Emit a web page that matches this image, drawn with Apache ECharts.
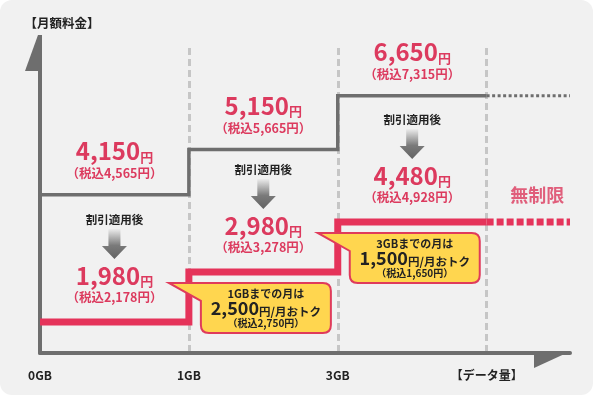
<!DOCTYPE html>
<html><head><meta charset="utf-8">
<script src="https://cdn.jsdelivr.net/npm/echarts@6/dist/echarts.min.js"></script>
<style>html,body{margin:0;padding:0;background:#fff}#c{width:596px;height:397px}</style>
</head><body><div id="c"></div>
<script>
// ---- data ----
const xLabels = ['0GB', '1GB', '3GB', '【データ量】'];
const basePrice = [4150, 5150, 6650];          // 月額料金（税抜）
const basePriceTax = [4565, 5665, 7315];       // 税込
const discountPrice = [1980, 2980, 4480];      // 割引適用後（税抜）
const discountPriceTax = [2178, 3278, 4928];   // 税込
const savings = [2500, 1500];                  // おトク額（税抜）
const savingsTax = [2750, 1650];               // 税込
const yTitle = '【月額料金】';
const discountLabel = '割引適用後';
const unlimitedLabel = '無制限';

// ---- styles ----
const RED = '#e5335a', RED_T = '#dc3a5e', GRAY = '#6e6e6e', INK = '#222222', YEL = '#ffd64f';
const FONT = '"Noto Sans CJK JP", "Noto Sans", sans-serif';
const X_MAX = 3.56;
const fmt = v => v.toLocaleString('en-US');

function stepData(vals) {
  const d = vals.map((v, i) => [i, v]);
  d.push([vals.length, vals[vals.length - 1]]);
  return d;
}
function extData(vals) {
  const last = vals[vals.length - 1];
  return [[vals.length, last], [X_MAX, last]];
}

const priceRich = {
  n: {fontSize: 24, fontWeight: 'bold', fontFamily: FONT, fill: RED_T, lineHeight: 28, verticalAlign: 'bottom'},
  u: {fontSize: 13, fontWeight: 'bold', fontFamily: FONT, fill: RED_T, lineHeight: 20, verticalAlign: 'bottom'}
};
const boxRich = {
  n: {fontSize: 18, fontWeight: 'bold', fontFamily: FONT, fill: INK, lineHeight: 22, verticalAlign: 'bottom'},
  u: {fontSize: 11.5, fontWeight: 'bold', fontFamily: FONT, fill: INK, lineHeight: 17, verticalAlign: 'bottom'}
};

function priceTexts(cx, cy, price, tax, dy1, dy2) {
  return [
    {type: 'text', style: {x: cx, y: cy + dy1, text: `{n|${fmt(price)}}{u|円}`, align: 'center', verticalAlign: 'middle', rich: priceRich}},
    {type: 'text', style: {x: cx, y: cy + dy2, text: `（税込${fmt(tax)}円）`, align: 'center', verticalAlign: 'middle',
      fontSize: 12.5, fontWeight: 'bold', fontFamily: FONT, fill: RED_T}}
  ];
}

function calloutPath(ax, ay) {
  const L = ax + 12, R = ax + 142, T = ay + 11, B = ay + 61, r = 8;
  return `M${ax - 20} ${T} L${R - r} ${T} Q${R} ${T} ${R} ${T + r} L${R} ${B - r} Q${R} ${B} ${R - r} ${B} ` +
         `L${L + r} ${B} Q${L} ${B} ${L} ${B - r} L${L} ${T + 18} Z`;
}

const chart = echarts.init(document.getElementById('c'), null, {renderer: 'canvas'});
chart.setOption({
  animation: false,
  backgroundColor: '#ffffff',
  grid: {left: 40, right: 26, top: 48, bottom: 44, containLabel: false, outerBoundsMode: 'none'},
  xAxis: {
    type: 'value', min: 0, max: X_MAX, interval: 1,
    axisLine: {show: true, onZero: false, lineStyle: {color: GRAY, width: 4}},
    axisTick: {show: false},
    axisLabel: {
      formatter: v => (Number.isInteger(v) ? (xLabels[v] || '') : ''),
      margin: 16, color: INK, fontSize: 12, fontWeight: 'bold', fontFamily: FONT, showMaxLabel: false
    },
    splitLine: {show: true, showMinLine: false, showMaxLine: false, lineStyle: {color: '#c6c6c6', width: 3, type: [7, 4]}}
  },
  yAxis: [
    {type: 'log', logBase: 10, min: 1949, max: 8357,
      axisLine: {show: true, onZero: false, lineStyle: {color: GRAY, width: 4}},
      axisTick: {show: false}, axisLabel: {show: false}, splitLine: {show: false}},
    {type: 'log', logBase: 10, min: 1537, max: 18550, show: false, splitLine: {show: false}}
  ],
  graphic: [
    {type: 'rect', z: -100, shape: {x: 0, y: 0, width: 593, height: 395, r: 12}, style: {fill: '#f1f1f1'}},
    {type: 'polygon', z: 100, shape: {points: [[25, 71], [38, 35], [42, 35], [42, 71]]}, style: {fill: GRAY}},
    {type: 'polygon', z: 100, shape: {points: [[534, 351], [571, 351], [534, 368]]}, style: {fill: GRAY}},
    {type: 'text', z: 100, style: {x: 62, y: 23, text: yTitle, align: 'center', verticalAlign: 'middle',
      fontSize: 12.5, fontWeight: 'bold', fontFamily: FONT, fill: INK}}
  ],
  series: [
    {type: 'line', name: '通常料金', yAxisIndex: 0, step: 'end', data: stepData(basePrice), symbol: 'none', silent: true, z: 3,
      lineStyle: {color: GRAY, width: 3.5, cap: 'butt', join: 'miter'}},
    {type: 'line', yAxisIndex: 0, data: extData(basePrice), symbol: 'none', silent: true, z: 3,
      lineStyle: {color: GRAY, width: 3, type: [3, 2.5], cap: 'butt'}},
    {type: 'line', name: '割引後', yAxisIndex: 1, step: 'end', data: stepData(discountPrice), symbol: 'none', silent: true, z: 4,
      lineStyle: {color: RED, width: 7, cap: 'butt', join: 'miter'}},
    {type: 'line', yAxisIndex: 1, data: extData(discountPrice), symbol: 'none', silent: true, z: 4,
      lineStyle: {color: RED, width: 7, type: [7, 3], cap: 'butt'}},
    // base price labels
    {type: 'custom', yAxisIndex: 0, silent: true, z: 5,
      data: basePrice.map((v, i) => [i + 0.5, v]),
      renderItem: (params, api) => {
        const i = params.dataIndex;
        const p = api.coord([api.value(0), api.value(1)]);
        return {type: 'group', children: priceTexts(p[0], p[1], basePrice[i], basePriceTax[i], -45.5, -21.5)};
      }},
    // discount labels with arrow
    {type: 'custom', yAxisIndex: 1, silent: true, z: 5,
      data: discountPrice.map((v, i) => [i + 0.5, v]),
      renderItem: (params, api) => {
        const i = params.dataIndex;
        const p = api.coord([api.value(0), api.value(1)]);
        const cx = p[0], cy = p[1];
        const arrow = {type: 'polygon', shape: {points: [
          [cx - 6, cy - 93], [cx + 6, cy - 93], [cx + 6, cy - 76], [cx + 12.5, cy - 76],
          [cx, cy - 63], [cx - 12.5, cy - 76], [cx - 6, cy - 76]]},
          style: {fill: new echarts.graphic.LinearGradient(0, 0, 0, 1, [
            {offset: 0, color: '#ececec'}, {offset: 0.55, color: '#7a7a7a'}, {offset: 1, color: '#636363'}])}};
        return {type: 'group', children: [
          {type: 'text', style: {x: cx, y: cy - 102, text: discountLabel, align: 'center', verticalAlign: 'middle',
            fontSize: 11.5, fontWeight: 'bold', fontFamily: FONT, fill: INK}},
          arrow
        ].concat(priceTexts(cx, cy, discountPrice[i], discountPriceTax[i], -48, -24.5))};
      }},
    // callouts
    {type: 'custom', yAxisIndex: 1, silent: true, z: 6,
      data: savings.map((v, i) => [i + 1, discountPrice[i + 1]]),
      renderItem: (params, api) => {
        const i = params.dataIndex;
        const p = api.coord([api.value(0), api.value(1)]);
        const ax = p[0], ay = p[1], cx = ax + 77, T = ay + 11;
        return {type: 'group', children: [
          {type: 'path', shape: {pathData: calloutPath(ax, ay)}, style: {fill: YEL, stroke: '#e03b5b', lineWidth: 2}},
          {type: 'text', style: {x: cx, y: T + 10.5, text: `${xLabels[i + 1]}までの月は`, align: 'center', verticalAlign: 'middle',
            fontSize: 11, fontWeight: 'bold', fontFamily: FONT, fill: INK}},
          {type: 'text', style: {x: cx, y: T + 23.5, text: `{n|${fmt(savings[i])}}{u|円/月おトク}`, align: 'center', verticalAlign: 'middle', rich: boxRich}},
          {type: 'text', style: {x: cx, y: T + 40.5, text: `（税込${fmt(savingsTax[i])}円）`, align: 'center', verticalAlign: 'middle',
            fontSize: 10, fontWeight: 'bold', fontFamily: FONT, fill: INK}}
        ]};
      }},
    // unlimited label
    {type: 'scatter', yAxisIndex: 1, silent: true, z: 5, symbolSize: 0,
      data: [[(discountPrice.length + X_MAX) / 2, discountPrice[discountPrice.length - 1]]],
      label: {show: true, formatter: unlimitedLabel, position: 'inside', offset: [9, -27],
        color: RED_T, fontSize: 18, fontWeight: 'bold', fontFamily: FONT}}
  ]
});
</script></body></html>
